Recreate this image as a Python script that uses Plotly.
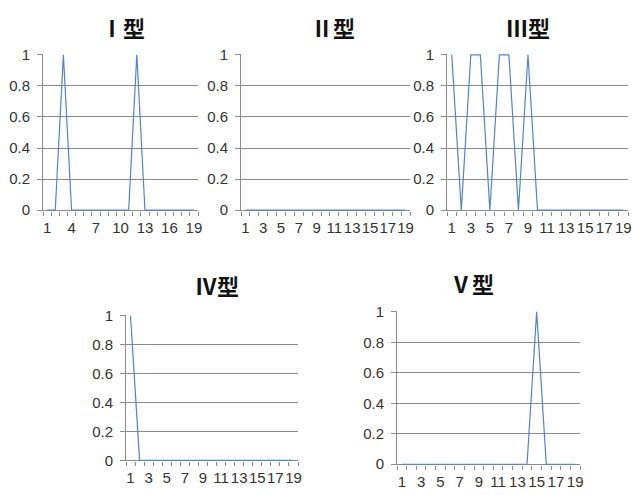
import plotly.graph_objects as go

W, H = 633, 495

categories = list(range(1, 20))
type1 = [0, 0, 1, 0, 0, 0, 0, 0, 0, 0, 0, 1, 0, 0, 0, 0, 0, 0, 0]
type2 = [0, 0, 0, 0, 0, 0, 0, 0, 0, 0, 0, 0, 0, 0, 0, 0, 0, 0, 0]
type3 = [1, 0, 1, 1, 0, 1, 1, 0, 1, 0, 0, 0, 0, 0, 0, 0, 0, 0, 0]
type4 = [1, 0, 0, 0, 0, 0, 0, 0, 0, 0, 0, 0, 0, 0, 0, 0, 0, 0, 0]
type5 = [0, 0, 0, 0, 0, 0, 0, 0, 0, 0, 0, 0, 0, 0, 1, 0, 0, 0, 0]
series = [type1, type2, type3, type4, type5]
titles = ["Ⅰ型", "Ⅱ型", "Ⅲ型", "Ⅳ型", "Ⅴ型"]
xticks_step3 = [1, 4, 7, 10, 13, 16, 19]
xticks_odd = [1, 3, 5, 7, 9, 11, 13, 15, 17, 19]
xtick_sets = [xticks_step3, xticks_odd, xticks_odd, xticks_odd, xticks_odd]
yticks = [0, 0.2, 0.4, 0.6, 0.8, 1]

# panel boxes in pixels: x0, x1, ytop, ybottom
boxes = [
    (43, 198, 54, 211),
    (241, 410, 54, 211),
    (447, 628, 54, 211),
    (126, 298, 315, 461),
    (397, 580, 311, 465),
]
title_pos = [(123, 27), (333, 27), (528, 27), (217, 285), (472, 283)]

GRID = "#8c8c8c"
LINE = "#5085C8"
TICKFONT = dict(family="Liberation Sans", size=15, color="#333333")

fig = go.Figure()
layout = dict(
    width=W, height=H, margin=dict(l=0, r=0, t=0, b=0, autoexpand=False),
    paper_bgcolor="white", plot_bgcolor="white", showlegend=False,
    annotations=[],
)

for i, (vals, box, tv) in enumerate(zip(series, boxes, xtick_sets)):
    n = "" if i == 0 else str(i + 1)
    fig.add_trace(go.Scatter(
        x=categories, y=vals, mode="lines",
        line=dict(color=LINE, width=1.2),
        xaxis="x" + n, yaxis="y" + n, hoverinfo="skip",
    ))
    x0, x1, yt, yb = box
    layout["xaxis" + n] = dict(
        domain=[x0 / W, x1 / W], anchor="y" + n, automargin=False,
        range=[0.5, 19.5], tickmode="array", tickvals=tv,
        ticktext=[str(v) for v in tv], ticks="", showgrid=False,
        showline=False, zeroline=False, tickfont=TICKFONT, tickangle=0,
        ticklabelstandoff=6,
        minor=dict(tickmode="array",
                   tickvals=[c - 0.5 for c in categories] + [19.5],
                   ticks="outside", ticklen=4, tickcolor=GRID, tickwidth=1,
                   showgrid=False),
        fixedrange=True,
    )
    layout["yaxis" + n] = dict(
        domain=[1 - yb / H, 1 - yt / H], anchor="x" + n, automargin=False,
        range=[-0.005, 1.005], tickmode="array", tickvals=yticks,
        ticktext=[("%g" % v) for v in yticks],
        ticks="outside", ticklen=5, tickcolor=GRID,
        showgrid=True, gridcolor=GRID, gridwidth=1,
        showline=True, linecolor=GRID, linewidth=1,
        zeroline=True, zerolinecolor=GRID, zerolinewidth=1,
        tickfont=TICKFONT, ticklabelstandoff=4, fixedrange=True,
    )
    tx, ty = title_pos[i]
    layout["annotations"].append(dict(
        x=tx / W, y=1 - ty / H, xref="paper", yref="paper",
        text="<b>" + titles[i] + "</b>", showarrow=False,
        xanchor="center", yanchor="middle",
        font=dict(family="Noto Sans CJK SC", size=22, color="#111111"),
    ))

fig.update_layout(**layout)
fig.write_html(
    "out.html",
    config={"displayModeBar": False, "staticPlot": True},
    post_script="document.body.style.margin='0';document.body.style.overflow='hidden';",
)
